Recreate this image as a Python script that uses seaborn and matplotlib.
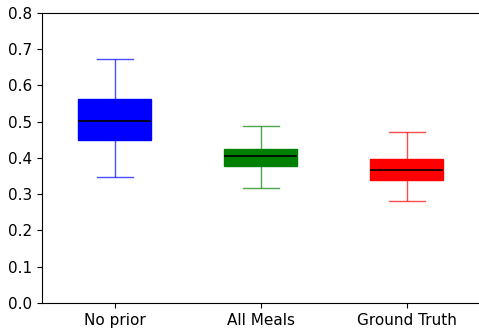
import seaborn as sns
import matplotlib.pyplot as plt
import pandas as pd

# box summaries: low whisker, Q1, median, Q3, high whisker
groups = ['No prior', 'All Meals', 'Ground Truth']
no_prior = [0.348, 0.450, 0.502, 0.563, 0.673]
all_meals = [0.317, 0.378, 0.406, 0.425, 0.488]
ground_truth = [0.281, 0.339, 0.367, 0.397, 0.472]
colors = ['blue', 'green', 'red']

values = [no_prior, all_meals, ground_truth]

fig = plt.figure(figsize=(4.79, 3.30), dpi=100)
ax = fig.add_axes([0.0877, 0.082, 0.914, 0.879])

for name, vals, c in zip(groups, values, colors):
    df = pd.DataFrame({'method': [name] * len(vals), 'score': vals})
    sns.boxplot(
        data=df, x='method', y='score', order=groups, ax=ax,
        color=c, linecolor=c, saturation=1, width=0.5,
        whis=(0, 100), linewidth=1,
        whiskerprops={'alpha': 0.7}, capprops={'alpha': 0.7},
        medianprops={'color': 'black', 'linewidth': 1.2},
    )

ax.set_ylim(0, 0.8)
ax.set_xlim(-0.5, 2.5)
ax.set_xlabel('')
ax.set_ylabel('')
ax.tick_params(labelsize=11)

fig.savefig('out.png', dpi=100)
